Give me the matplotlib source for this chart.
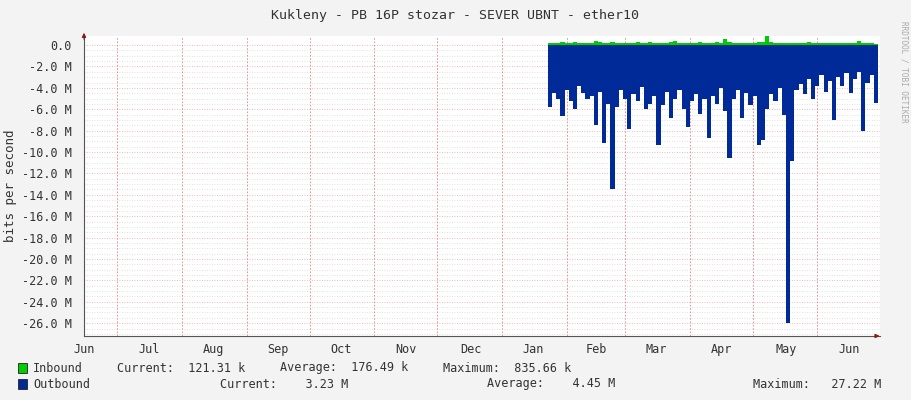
import matplotlib.pyplot as plt
import numpy as np

# days counted from Jun 15 (left edge of graph)
month_labels = ["Jun", "Jul", "Aug", "Sep", "Oct", "Nov", "Dec", "Jan", "Feb", "Mar", "Apr", "May", "Jun"]
month_starts = [16, 47, 78, 108, 139, 169, 200, 231, 259, 290, 320, 351]
label_days = [0, 31, 62, 93, 123, 154, 185, 215, 245, 274, 305, 336, 366]

data_start = 222
step_days = 2

# outbound traffic, M bits/s (drawn negative)
outbound = [5.8, 4.5, 5.0, 6.6, 4.2, 5.2, 6.0, 3.8, 4.5, 5.0,
            4.8, 7.5, 4.4, 9.2, 5.5, 13.5, 5.8, 4.2, 5.0, 7.8,
            4.6, 5.2, 3.9, 6.0, 5.5, 4.8, 9.3, 5.6, 4.4, 6.8,
            5.0, 4.2, 6.0, 7.7, 5.2, 4.6, 6.4, 5.0, 8.7, 4.8,
            5.5, 4.0, 6.2, 10.6, 5.0, 4.2, 6.8, 4.5, 5.6, 4.8,
            9.3, 8.9, 6.0, 4.6, 5.2, 4.0, 6.5, 26.0, 10.8, 4.2,
            3.6, 4.6, 3.2, 5.0, 3.8, 2.8, 4.4, 3.4, 7.0, 3.0,
            3.8, 2.6, 4.5, 3.2, 2.5, 8.0, 3.5, 2.8, 5.4]
# inbound traffic, M bits/s
inbound = [0.15, 0.2, 0.18, 0.25, 0.15, 0.2, 0.3, 0.18, 0.22, 0.15,
           0.2, 0.35, 0.25, 0.2, 0.15, 0.3, 0.18, 0.2, 0.22, 0.15,
           0.2, 0.25, 0.18, 0.2, 0.3, 0.22, 0.18, 0.2, 0.15, 0.25,
           0.4, 0.2, 0.18, 0.22, 0.2, 0.15, 0.3, 0.2, 0.18, 0.2,
           0.25, 0.2, 0.6, 0.3, 0.2, 0.18, 0.22, 0.2, 0.15, 0.2,
           0.25, 0.3, 0.84, 0.3, 0.2, 0.18, 0.22, 0.2, 0.15, 0.2,
           0.18, 0.2, 0.25, 0.2, 0.15, 0.2, 0.18, 0.22, 0.2, 0.15,
           0.2, 0.18, 0.22, 0.2, 0.4, 0.2, 0.18, 0.15, 0.12]

yticks = list(range(0, -27, -2))

plt.rcParams["font.family"] = "DejaVu Sans Mono"
fig = plt.figure(figsize=(9.11, 4.0), dpi=100, facecolor="#F3F3F3")
ax = fig.add_axes([84 / 911, 64 / 400, 796 / 911, 300 / 400])
ax.set_facecolor("white")

xs = data_start + step_days * np.arange(len(outbound) + 1)
out_vals = -np.array(outbound + [outbound[-1]])
in_vals = np.array(inbound + [inbound[-1]])
ax.fill_between(xs, 0, in_vals, step="post", color="#00CC00", lw=0)
ax.fill_between(xs, 0, out_vals, step="post", color="#002A97", lw=0)

# grid
for y in np.arange(0, -27.5, -0.5):
    major = abs(y % 2) < 1e-9
    ax.axhline(y, color="#F0A0A0" if major else "#D8D8D8", lw=0.6,
               ls=(0, (1, 2)), zorder=0.5 if not major else 0.6)
for d in month_starts:
    ax.axvline(d, color="#F08080", lw=0.6, ls=(0, (2, 2)), zorder=0.6)

ax.set_xlim(0, 381)
ax.set_ylim(-27.2, 0.85)
ax.set_yticks(yticks)
ax.set_yticklabels(["0.0"] + ["%.1f M" % v for v in yticks[1:]])
ax.set_xticks(label_days)
ax.set_xticklabels(month_labels)
ax.tick_params(length=0, labelsize=8.5, colors="#333333")
ax.tick_params(axis="y", pad=9)
ax.tick_params(axis="x", pad=5)
for side in ["top", "right"]:
    ax.spines[side].set_visible(False)
for side in ["left", "bottom"]:
    ax.spines[side].set_color("#555555")
    ax.spines[side].set_linewidth(0.8)
ax.annotate("", xy=(1.003, 0), xytext=(0.99, 0), xycoords="axes fraction",
            arrowprops=dict(arrowstyle="-|>", color="#8B1A1A", lw=0.8, mutation_scale=6))
ax.annotate("", xy=(0, 1.02), xytext=(0, 0.98), xycoords="axes fraction",
            arrowprops=dict(arrowstyle="-|>", color="#8B1A1A", lw=0.8, mutation_scale=6))
fig.text(11 / 911, 1 - 186 / 400, "bits per second", rotation=90, ha="center",
         va="center", fontsize=9, color="#333333")

fig.text(455 / 911, 1 - 15 / 400, "Kukleny - PB 16P stozar - SEVER UBNT - ether10",
         ha="center", va="center", fontsize=9.5, color="#333333")
fig.text(904 / 911, 0.82, "RRDTOOL / TOBI OETIKER", rotation=270, ha="center",
         va="center", fontsize=5.5, color="#AAAAAA")

# legend
leg_color = "#333333"
rows = [368, 384]
for y, c in zip(rows, ["#00CC00", "#002A97"]):
    fig.patches.append(plt.Rectangle((18 / 911, 1 - (y + 5) / 400), 9 / 911, 10 / 400,
                                     transform=fig.transFigure, facecolor=c,
                                     edgecolor="#222222", lw=0.6))
legend_rows = [
    [(33, "Inbound"), (117, "Current:  121.31 k"), (280, "Average:  176.49 k"),
     (443, "Maximum:  835.66 k")],
    [(33, "Outbound"), (220, "Current:    3.23 M"), (487, "Average:    4.45 M"),
     (753, "Maximum:   27.22 M")],
]
for y, items in zip(rows, legend_rows):
    for x, s in items:
        fig.text(x / 911, 1 - y / 400, s, va="center", fontsize=8.5, color=leg_color)

fig.savefig("out.png", dpi=100, facecolor=fig.get_facecolor())
